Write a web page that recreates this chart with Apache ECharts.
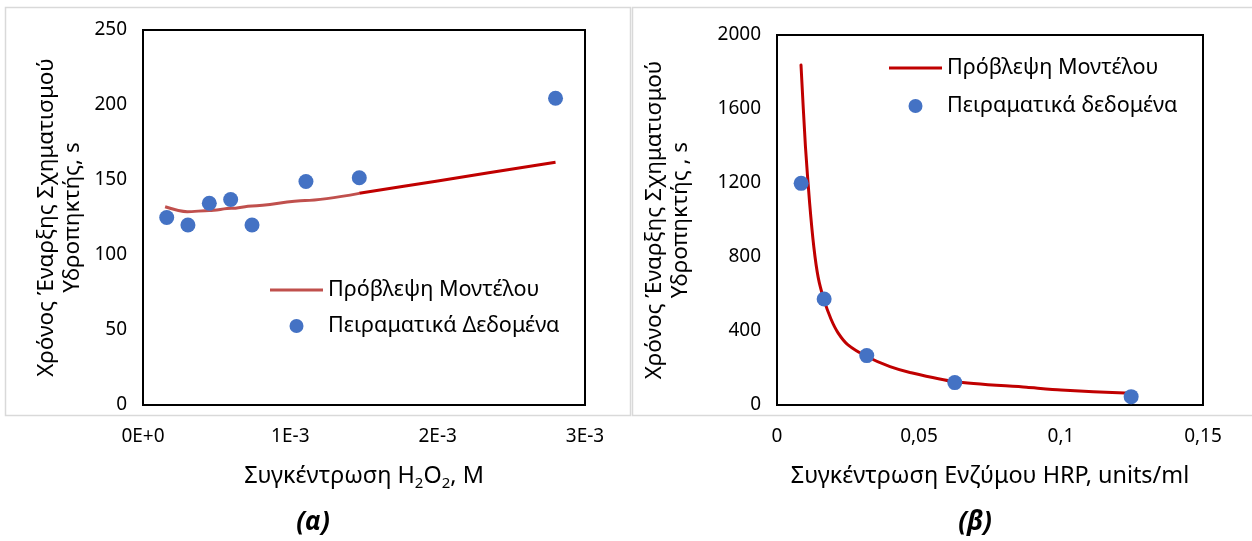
<!DOCTYPE html>
<html>
<head>
<meta charset="utf-8">
<script src="https://cdn.jsdelivr.net/npm/echarts@6/dist/echarts.min.js"></script>
<style>
html,body{margin:0;padding:0;background:#fff;}
#chart{width:1252px;height:541px;}
</style>
</head>
<body>
<div id="chart"></div>
<script>
// ---- Chart (α): H2O2 concentration ----
const xTickLabelsA = ['0E+0', '1E-3', '2E-3', '3E-3'];
const expA_x = [0.161e-3, 0.305e-3, 0.45e-3, 0.595e-3, 0.74e-3, 1.106e-3, 1.468e-3, 2.80e-3];
const expA_y = [125, 120, 134.5, 137, 120, 149, 151.5, 204.5];
const modelA1_x = [0.15e-3, 0.3e-3, 0.45e-3, 0.6e-3, 0.74e-3, 1.1e-3, 1.468e-3];
const modelA1_y = [132.2, 128.9, 129.6, 131.1, 132.7, 136.4, 141.1];
const modelA2_x = [1.468e-3, 2.0e-3, 2.80e-3];
const modelA2_y = [141.1, 149.4, 161.8];

// ---- Chart (β): HRP enzyme concentration ----
const xTickLabelsB = ['0', '0,05', '0,1', '0,15'];
const expB_x = [0.0085, 0.0166, 0.0316, 0.0626, 0.1247];
const expB_y = [1198, 573, 267, 121, 45];
const modelB_x = [0.00845, 0.0100, 0.0115, 0.0130, 0.0145, 0.01655, 0.0190, 0.0215, 0.0250, 0.0316, 0.0398, 0.0468, 0.0626, 0.0879, 0.1000, 0.1247];
const modelB_y = [1838, 1400, 1090, 850, 690, 568, 465, 390, 325, 262, 207, 176, 126, 96, 81, 63];

const nameModel = 'Πρόβλεψη Μοντέλου';
const nameExpA = 'Πειραματικά Δεδομένα';
const nameExpB = 'Πειραματικά δεδομένα';
const yTitle = 'Χρόνος Έναρξης Σχηματισμού';
const yTitleA2 = 'Υδροπηκτής, s';
const yTitleB2 = 'Υδροπηκτής , s';
const xTitleB = 'Συγκέντρωση Ενζύμου HRP, units/ml';
const captionA = '(α)';
const captionB = '(β)';

const zip = (xs, ys) => xs.map((x, i) => [x, ys[i]]);
const FONT = 'Noto Sans';
const TXT = '#000';
const LINE_ICON = 'path://M0,0L53,0L53,0.01L0,0.01Z M0,5.5L53,5.5L53,8.5L0,8.5Z M0,13.99L53,13.99L53,14L0,14Z';

const chart = echarts.init(document.getElementById('chart'), null, {renderer: 'canvas'});

const axisCommon = {
  axisTick: {show: false},
  splitLine: {show: false},
  axisLine: {show: true, lineStyle: {color: '#000', width: 2}},
};
const tickFont = {color: TXT, fontSize: 19, fontFamily: FONT};

chart.setOption({
  animation: false,
  backgroundColor: '#fff',
  textStyle: {fontFamily: FONT},
  grid: [
    {left: 143, top: 30, width: 442, height: 375, show: true, borderColor: '#000', borderWidth: 2, backgroundColor: 'transparent'},
    {left: 777, top: 35, width: 426, height: 370, show: true, borderColor: '#000', borderWidth: 2, backgroundColor: 'transparent'}
  ],
  xAxis: [
    Object.assign({}, axisCommon, {
      type: 'value', gridIndex: 0, min: 0, max: 0.003, interval: 0.001,
      axisLabel: Object.assign({}, tickFont, {margin: 22, formatter: v => xTickLabelsA[Math.round(v / 0.001)]}),
      name: 'Συγκέντρωση H{sub|2}O{sub|2}, M',
      nameLocation: 'middle', nameGap: 56,
      nameTextStyle: {
        color: TXT, fontSize: 23.4, fontFamily: FONT, lineHeight: 30,
        rich: {sub: {fontSize: 15, fontFamily: FONT, color: TXT, verticalAlign: 'bottom', lineHeight: 15}}
      }
    }),
    Object.assign({}, axisCommon, {
      type: 'value', gridIndex: 1, min: 0, max: 0.15, interval: 0.05,
      axisLabel: Object.assign({}, tickFont, {margin: 22, formatter: v => xTickLabelsB[Math.round(v / 0.05)]}),
      name: xTitleB,
      nameLocation: 'middle', nameGap: 56,
      nameTextStyle: {color: TXT, fontSize: 23.4, fontFamily: FONT, lineHeight: 30}
    })
  ],
  yAxis: [
    Object.assign({}, axisCommon, {
      type: 'value', gridIndex: 0, min: 0, max: 250, interval: 50,
      axisLabel: Object.assign({}, tickFont, {margin: 16, formatter: v => String(v)}),
      name: yTitle + '\n' + yTitleA2,
      nameLocation: 'middle', nameRotate: 90, nameGap: 57,
      nameTextStyle: {color: TXT, fontSize: 22.5, fontFamily: FONT, lineHeight: 26, align: 'center'}
    }),
    Object.assign({}, axisCommon, {
      type: 'value', gridIndex: 1, min: 0, max: 2000, interval: 400,
      axisLabel: Object.assign({}, tickFont, {margin: 16, formatter: v => String(v)}),
      name: yTitle + '\n' + yTitleB2,
      nameLocation: 'middle', nameRotate: 90, nameGap: 83,
      nameTextStyle: {color: TXT, fontSize: 22.5, fontFamily: FONT, lineHeight: 26, align: 'center'}
    })
  ],
  legend: [
    {
      left: 270, top: 279, orient: 'vertical', padding: 0,
      itemWidth: 53, itemHeight: 14, itemGap: 14,
      textStyle: {color: TXT, fontSize: 21.6, fontFamily: FONT, lineHeight: 22},
      data: [
        {name: nameModel, icon: LINE_ICON, itemStyle: {color: '#C0504D'}},
        {name: nameExpA, icon: 'circle'}
      ],
      selectedMode: false
    },
    {
      left: 889, top: 57, orient: 'vertical', padding: 0,
      itemWidth: 53, itemHeight: 14, itemGap: 16,
      textStyle: {color: TXT, fontSize: 21.6, fontFamily: FONT, lineHeight: 22},
      data: [
        {name: nameModel, icon: LINE_ICON, itemStyle: {color: '#C00000'}},
        {name: nameExpB, icon: 'circle'}
      ],
      selectedMode: false
    }
  ],
  series: [
    {
      name: nameModel, type: 'line', xAxisIndex: 0, yAxisIndex: 0,
      data: zip(modelA1_x, modelA1_y), symbol: 'none', smooth: 0.3, smoothMonotone: 'x',
      lineStyle: {color: '#C0504D', width: 3}, itemStyle: {color: '#C0504D'}, z: 2
    },
    {
      name: 'model-ext', type: 'line', xAxisIndex: 0, yAxisIndex: 0,
      data: zip(modelA2_x, modelA2_y), symbol: 'none', smooth: 0.3,
      lineStyle: {color: '#C00000', width: 3}, itemStyle: {color: '#C00000'}, z: 2
    },
    {
      name: nameExpA, type: 'scatter', xAxisIndex: 0, yAxisIndex: 0,
      data: zip(expA_x, expA_y), symbol: 'circle', symbolSize: 15,
      itemStyle: {color: '#4472C4', opacity: 1}, z: 3
    },
    {
      name: nameModel, type: 'line', xAxisIndex: 1, yAxisIndex: 1,
      data: zip(modelB_x, modelB_y), symbol: 'none', smooth: 0.25,
      lineStyle: {color: '#C00000', width: 3, join: 'round', cap: 'round'}, itemStyle: {color: '#C00000'}, z: 2
    },
    {
      name: nameExpB, type: 'scatter', xAxisIndex: 1, yAxisIndex: 1,
      data: zip(expB_x, expB_y), symbol: 'circle', symbolSize: 15,
      itemStyle: {color: '#4472C4', opacity: 1}, z: 3
    }
  ],
  graphic: [
    {type: 'rect', shape: {x: 5.5, y: 7.5, width: 625, height: 408}, style: {fill: 'none', stroke: '#d9d9d9', lineWidth: 1.5}, silent: true, z: -1},
    {type: 'rect', shape: {x: 632.5, y: 7.5, width: 630, height: 408}, style: {fill: 'none', stroke: '#d9d9d9', lineWidth: 1.5}, silent: true, z: -1},
    {type: 'text', x: 313, y: 523, style: {text: captionA, font: 'italic bold 26px "Noto Sans"', fill: '#000', align: 'center', verticalAlign: 'middle'}},
    {type: 'text', x: 975, y: 523, style: {text: captionB, font: 'italic bold 26px "Noto Sans"', fill: '#000', align: 'center', verticalAlign: 'middle'}}
  ]
});
</script>
</body>
</html>
